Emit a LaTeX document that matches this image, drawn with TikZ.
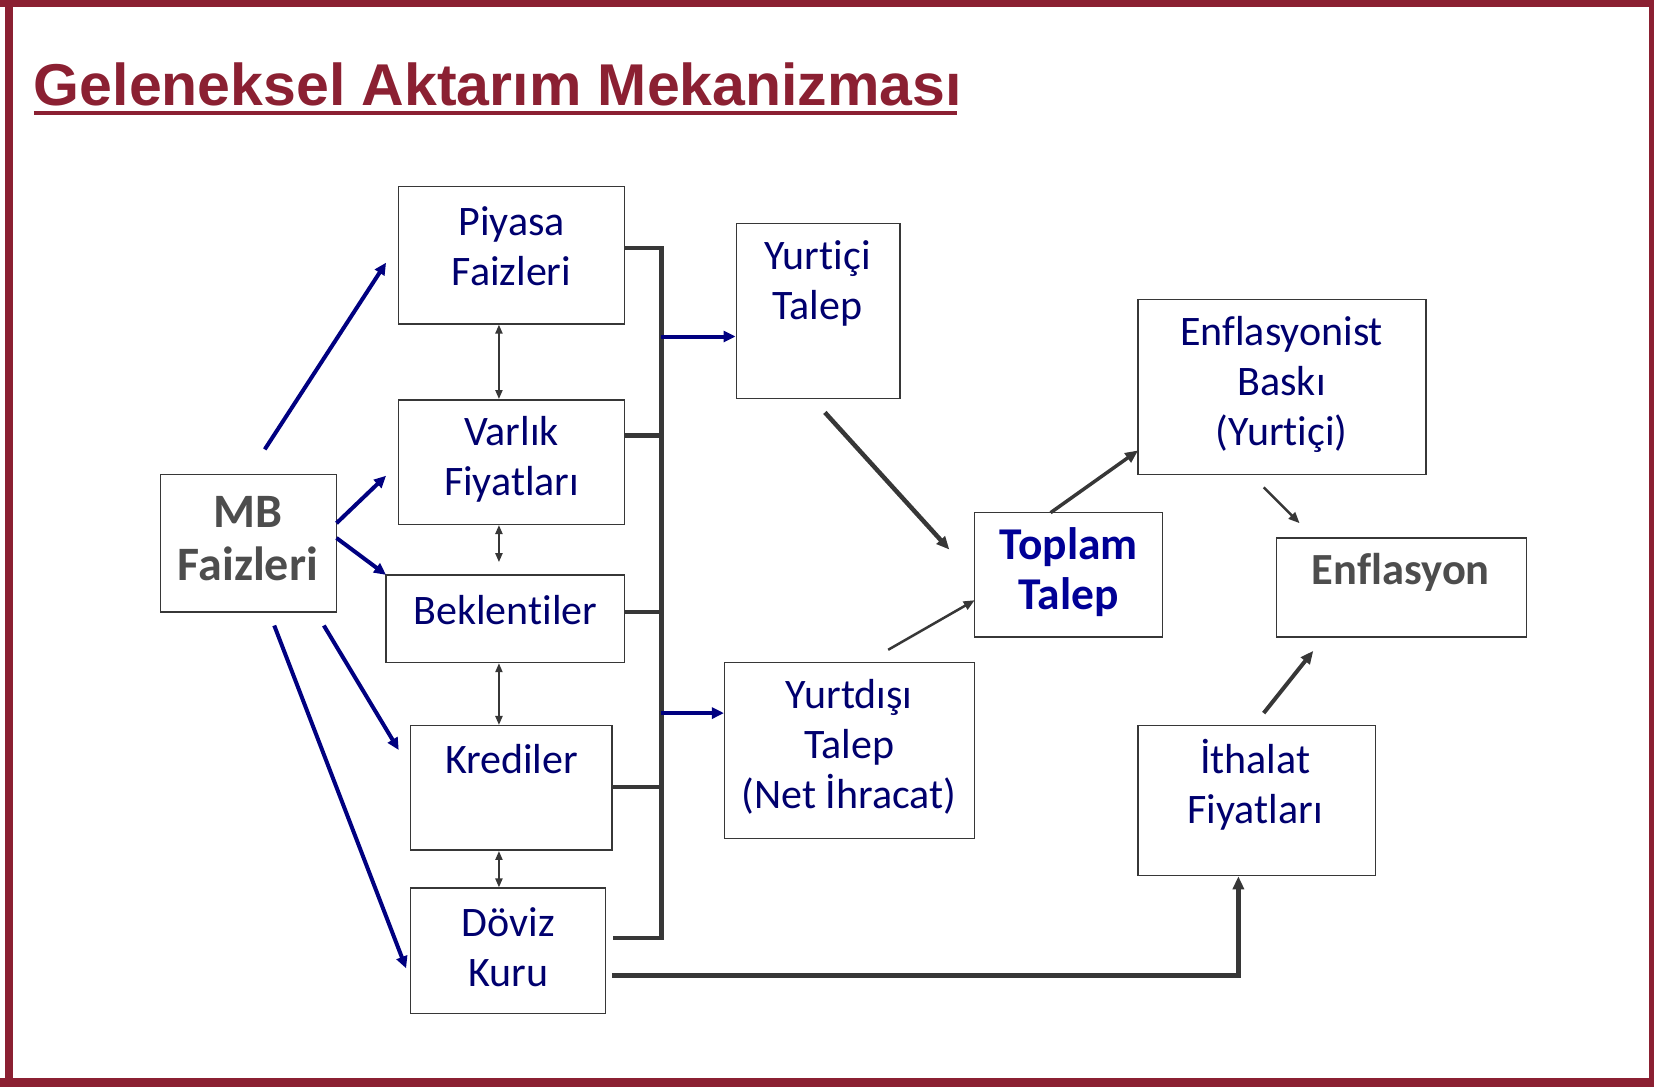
\documentclass[tikz,border=0pt]{standalone}
\usepackage{fontspec}
\setmainfont{Carlito}[Ligatures=NoCommon]
\newfontfamily\titlefont{Liberation Sans}
\usetikzlibrary{arrows.meta,fit}
\definecolor{framecol}{RGB}{139,32,50}
\definecolor{navytxt}{RGB}{0,0,110}
\definecolor{toplamcol}{RGB}{0,0,150}
\definecolor{graytxt}{RGB}{77,77,77}
\definecolor{darkline}{RGB}{55,55,55}
\definecolor{bluearrow}{RGB}{0,0,128}
\begin{document}
\begin{tikzpicture}[x=1.0549pt,y=-1.0549pt,
  box/.style={draw=darkline, line width=1.5pt, inner sep=0pt},
  txt/.style={align=center, text=navytxt, font=\fontsize{42}{50}\selectfont, inner sep=0pt},
  boldgray/.style={align=center, text=graytxt, font=\fontsize{48}{53}\selectfont\bfseries, inner sep=0pt},
  bus/.style={draw=darkline, line width=4.5pt},
  bluearr/.style={draw=bluearrow, line width=4pt, -{Triangle[length=12pt,width=11pt]}},
  dblarr/.style={draw=darkline, line width=2pt, {Triangle[length=9pt,width=7pt]}-{Triangle[length=9pt,width=7pt]}},
  grayarr/.style={draw=darkline, -{Triangle[length=13pt,width=11pt]}}
]
\useasboundingbox (0,0) rectangle (1568,1030);
% frame
\fill[framecol] (0,0) rectangle (1568,6.6);
\fill[framecol] (4.7,0) rectangle (12.3,1030);
\fill[framecol] (1563,0) rectangle (1568,1030);
\fill[framecol] (0,1022) rectangle (1568,1030);
% title
\node[anchor=base west, inner sep=0pt, text=framecol, font=\titlefont\fontsize{59}{62}\selectfont\bfseries] (title) at (32,100) {Geleneksel Aktarım Mekanizması};
\draw[framecol, line width=4pt] (title.base west |- 0,107.5) coordinate (ul1) -- (907,107.5) coordinate (ul2);

% boxes
\node[box, fit={(378,177) (592,307)}] (piyasa) {};
\node[box, fit={(378,379) (592,497)}] (varlik) {};
\node[box, fit={(366,545) (592,628)}] (bekl) {};
\node[box, fit={(389,688) (580,806)}] (kredi) {};
\node[box, fit={(389,842) (574,961)}] (doviz) {};
\node[box, fit={(152,450) (319,580)}] (mb) {};
\node[box, fit={(698,212) (853,378)}] (yurtici) {};
\node[box, fit={(687,628) (924,795)}] (yurtdisi) {};
\node[box, fit={(924,486) (1102,604)}] (toplam) {};
\node[box, fit={(1079,284) (1352,450)}] (baski) {};
\node[box, fit={(1210,510) (1447,604)}] (enf) {};
\node[box, fit={(1079,688) (1304,830)}] (ithalat) {};

% texts
\node[txt] (piyasa-t) at (485,233) {Piyasa\\Faizleri};
\node[txt] (varlik-t) at (485,435) {Varlık\\Fiyatları};
\node[txt] (bekl-t) at (479,578) {Beklentiler};
\node[txt] (kredi-t) at (485,720) {Krediler};
\node[txt] (doviz-t) at (482,898) {Döviz\\Kuru};
\node[boldgray] (mb-t) at (235,511) {MB\\Faizleri};
\node[txt] (yurtici-t) at (775,269) {Yurtiçi\\Talep};
\node[txt] (yurtdisi-t) at (805,708) {Yurtdışı\\Talep\\(Net İhracat)};
\node[txt, text=toplamcol, font=\fontsize{45.5}{50}\selectfont\bfseries] (toplam-t) at (1013,542) {Toplam\\Talep};
\node[txt] (baski-t) at (1215,364) {Enflasyonist\\Baskı\\(Yurtiçi)};
\node[boldgray, font=\fontsize{44.5}{50}\selectfont\bfseries] (enf-t) at (1328,543) {Enflasyon};
\node[txt] (ithalat-t) at (1190,744) {İthalat\\Fiyatları};

% bus
\coordinate (b1) at (627,235);
\coordinate (b2) at (627,413);
\coordinate (b3) at (627,580);
\coordinate (b4) at (627,746);
\coordinate (b5) at (627,889);
\draw[bus, line join=miter] (b1 -| piyasa.east) -- (b1) -- (b5) -- (b5 -| kredi.east);
\draw[bus] (b2 -| varlik.east) -- (b2);
\draw[bus] (b3 -| bekl.east) -- (b3);
\draw[bus] (b4 -| kredi.east) -- (b4);
\coordinate (bo1) at (627,319);
\coordinate (bo2) at (627,676);
\draw[bluearr] (bo1) -- (bo1 -| yurtici.west);
\draw[bluearr] (bo2) -- (bo2 -| yurtdisi.west);

% MB arrows
\coordinate (m1s) at (251,426); \coordinate (m1e) at (366,249);
\coordinate (m2s) at (319,496); \coordinate (m2e) at (366,451);
\coordinate (m3s) at (319,510); \coordinate (m3e) at (366,545);
\coordinate (m4s) at (307,593); \coordinate (m4e) at (378,711);
\coordinate (m5s) at (260,593); \coordinate (m5e) at (385,918);
\draw[bluearr] (m1s) -- (m1e);
\draw[bluearr] (m2s) -- (m2e);
\draw[bluearr] (m3s) -- (m3e);
\draw[bluearr] (m4s) -- (m4e);
\draw[bluearr] (m5s) -- (m5e);

% double arrows
\coordinate (dx) at (473,0);
\draw[dblarr] (piyasa.south -| dx) -- (varlik.north -| dx);
\draw[dblarr] (varlik.south -| dx) -- ([yshift=12]bekl.north -| dx);
\draw[dblarr] (bekl.south -| dx) -- (kredi.north -| dx);
\draw[dblarr] (kredi.south -| dx) -- (doviz.north -| dx);

% doviz -> ithalat
\coordinate (dv) at (580,925);
\coordinate (ik) at (1174,0);
\draw[grayarr, line width=4.5pt] (dv) -| (ithalat.south -| ik);

% gray diagonal arrows
\coordinate (g1s) at (782,391); \coordinate (g1e) at (900,521);
\coordinate (g2s) at (842,616); \coordinate (g2e) at (924,569);
\coordinate (g3s) at (996,486); \coordinate (g3e) at (1079,427);
\coordinate (g4s) at (1198,462); \coordinate (g4e) at (1232,496);
\coordinate (g5s) at (1198,676); \coordinate (g5e) at (1245,617);
\draw[grayarr, line width=4.5pt] (g1s) -- (g1e);
\draw[grayarr, line width=2.5pt, -{Triangle[length=11pt,width=9pt]}] (g2s) -- (g2e);
\draw[grayarr, line width=3.5pt] (g3s) -- (g3e);
\draw[grayarr, line width=2.5pt, -{Triangle[length=11pt,width=9pt]}] (g4s) -- (g4e);
\draw[grayarr, line width=4pt] (g5s) -- (g5e);
\end{tikzpicture}
\end{document}
